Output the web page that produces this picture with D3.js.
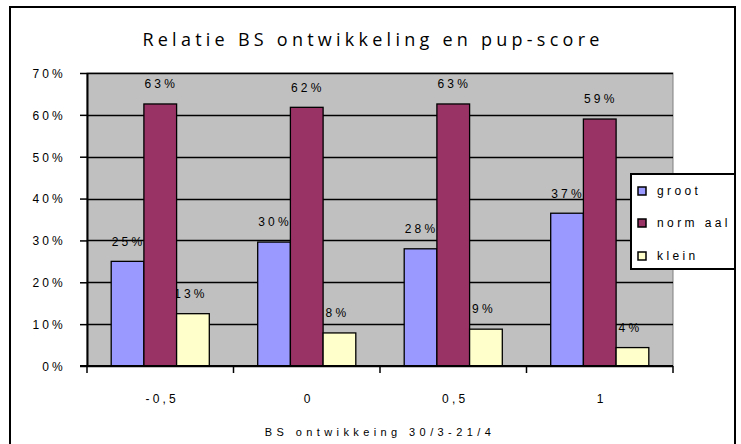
<!DOCTYPE html>
<html>
<head>
<meta charset="utf-8">
<script src="https://cdn.jsdelivr.net/npm/d3@7"></script>
<style>
  html, body { margin: 0; padding: 0; background: #fff; }
  svg { display: block; }
  text { font-family: "Liberation Sans", Arial, sans-serif; fill: #000; }
</style>
</head>
<body>
<svg id="chart" width="741" height="444"></svg>
<script>
// ---- data ----
const categories = ["-0,5", "0", "0,5", "1"];
const seriesNames = ["groot", "normaal", "klein"];
const legendLabels = ["groot", "norm aal", "klein"];
const groot   = [0.25, 0.296, 0.28, 0.365];
const normaal = [0.626, 0.618, 0.626, 0.59];
const klein   = [0.125, 0.079, 0.088, 0.044];
const yTicks  = [0, 0.1, 0.2, 0.3, 0.4, 0.5, 0.6, 0.7];
const title = "Relatie BS ontwikkeling en pup-score";
const xTitle = "BS ontwikkeing 30/3-21/4";
const colors = ["#9999FF", "#993366", "#FFFFCC"];

const seriesValues = [groot, normaal, klein];

const svg = d3.select("#chart");

// fit letter-spacing so the text spans a target width
function fitSpacing(sel, target) {
  sel.each(function() {
    const t = d3.select(this);
    t.style("letter-spacing", "0px");
    const w = this.getComputedTextLength();
    const n = t.text().length;
    const ls = n > 1 ? (target - w) / (n - 1) : 0;
    t.style("letter-spacing", ls + "px");
  });
}

// outer frame
svg.append("rect")
  .attr("x", 10).attr("y", 7).attr("width", 725).attr("height", 460)
  .attr("fill", "#fff").attr("stroke", "#000").attr("stroke-width", 2);

const plot = { left: 87, right: 673, top: 73, bottom: 366 };

const y = d3.scaleLinear().domain([0, 0.7]).range([plot.bottom, plot.top]);
const x0 = d3.scaleBand().domain(categories).range([plot.left, plot.right]).padding(0);
const x1 = d3.scaleBand().domain(seriesNames).range([0, x0.bandwidth()])
  .paddingInner(0).paddingOuter(0.74);

// plot background
svg.append("rect")
  .attr("x", plot.left).attr("y", plot.top)
  .attr("width", plot.right - plot.left).attr("height", plot.bottom - plot.top)
  .attr("fill", "#C0C0C0").attr("stroke", "#808080").attr("stroke-width", 1);

// gridlines
svg.append("g").selectAll("line").data(yTicks).join("line")
  .attr("x1", plot.left).attr("x2", plot.right)
  .attr("y1", d => Math.round(y(d)) + 0.5).attr("y2", d => Math.round(y(d)) + 0.5)
  .attr("stroke", "#000").attr("stroke-width", 1.3);

// y axis
const yAxis = d3.axisLeft(y).tickValues(yTicks)
  .tickFormat(d => Math.round(d * 100) + "%").tickSize(7).tickSizeOuter(0).tickPadding(14);
const gy = svg.append("g").attr("transform", `translate(${plot.left},0)`).call(yAxis);
gy.select(".domain").attr("stroke", "#000").attr("stroke-width", 2);
gy.selectAll(".tick line").attr("stroke", "#000").attr("stroke-width", 1.5);
gy.selectAll(".tick text")
  .attr("font-family", "Liberation Sans, Arial, sans-serif")
  .attr("font-size", 12).attr("fill", "#000").attr("dy", "0.36em")
  .style("letter-spacing", "3.2px");

// data labels (drawn beneath bars)
const labelG = svg.append("g");
seriesValues.forEach((vals, si) => {
  labelG.selectAll(null).data(vals).join("text")
    .attr("x", (d, i) => x0(categories[i]) + x1(seriesNames[si]) + x1.bandwidth() / 2 + (si === 2 ? -2 : 1))
    .attr("y", d => y(d) - 20)
    .attr("dy", "0.36em")
    .attr("text-anchor", "middle")
    .attr("font-size", 12)
    .style("letter-spacing", "3.2px")
    .text(d => Math.round(d * 100) + "%");
});

// bars
seriesValues.forEach((vals, si) => {
  svg.append("g").selectAll("rect").data(vals).join("rect")
    .attr("x", (d, i) => x0(categories[i]) + x1(seriesNames[si]))
    .attr("y", d => y(d))
    .attr("width", x1.bandwidth())
    .attr("height", d => y(0) - y(d))
    .attr("fill", colors[si])
    .attr("stroke", "#000").attr("stroke-width", 1.3);
});

// x axis with ticks between categories
const xEdges = categories.map(c => x0(c)).concat([plot.right]);
const gx = svg.append("g");
gx.append("line")
  .attr("x1", plot.left - 7).attr("x2", plot.right)
  .attr("y1", plot.bottom).attr("y2", plot.bottom)
  .attr("stroke", "#000").attr("stroke-width", 2);
gx.selectAll("line.tk").data(xEdges).join("line").attr("class", "tk")
  .attr("x1", d => d).attr("x2", d => d)
  .attr("y1", plot.bottom).attr("y2", plot.bottom + 7)
  .attr("stroke", "#000").attr("stroke-width", 1.5);
gx.selectAll("text").data(categories).join("text")
  .attr("x", d => x0(d) + x0.bandwidth() / 2 + 2)
  .attr("y", 399).attr("dy", "0.36em")
  .attr("text-anchor", "middle").attr("font-size", 12)
  .style("letter-spacing", "3.2px")
  .text(d => d);

// x axis title
svg.append("text")
  .attr("x", (plot.left + plot.right) / 2)
  .attr("y", 432).attr("dy", "0.36em")
  .attr("text-anchor", "middle").attr("font-size", 11)
  .text(xTitle)
  .call(fitSpacing, 226);

// title
svg.append("text")
  .attr("x", 373).attr("y", 40).attr("dy", "0.36em")
  .attr("text-anchor", "middle")
  .style("font-family", "'Open Sans', sans-serif")
  .attr("font-size", 18)
  .text(title)
  .call(fitSpacing, 457);

// legend
const lg = svg.append("g");
lg.append("rect")
  .attr("x", 631).attr("y", 174).attr("width", 104).attr("height", 95)
  .attr("fill", "#fff").attr("stroke", "#000").attr("stroke-width", 2);
const rowY = [191, 223, 256];
lg.selectAll("rect.sw").data(seriesNames).join("rect").attr("class", "sw")
  .attr("x", 638).attr("y", (d, i) => rowY[i] - 4)
  .attr("width", 8).attr("height", 8)
  .attr("fill", (d, i) => colors[i]).attr("stroke", "#000").attr("stroke-width", 1.5);
lg.selectAll("text").data(legendLabels).join("text")
  .attr("x", 657).attr("y", (d, i) => rowY[i]).attr("dy", "0.36em")
  .attr("font-size", 12)
  .style("letter-spacing", "3.4px")
  .text(d => d);
</script>
</body>
</html>
